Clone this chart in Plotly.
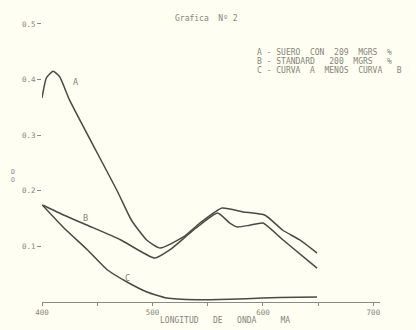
import plotly.graph_objects as go

# Curve A: SUERO CON 209 MGRS %
A_nm = [400, 404, 410, 416, 425, 468, 481, 495, 507, 528, 543, 563, 582, 602, 618, 633, 649]
A_do = [0.367, 0.403, 0.415, 0.405, 0.363, 0.200, 0.147, 0.111, 0.097, 0.117, 0.142, 0.169, 0.162, 0.156, 0.129, 0.112, 0.088]

# Curve B: STANDARD 200 MGRS %
B_nm = [401, 420, 441, 471, 502, 516, 537, 559, 570, 577, 588, 600, 618, 649]
B_do = [0.174, 0.156, 0.138, 0.112, 0.079, 0.094, 0.129, 0.160, 0.142, 0.135, 0.138, 0.142, 0.112, 0.061]

# Curve C: A minus B
C_nm = [400, 419, 441, 459, 477, 495, 513, 540, 570, 600, 615, 649]
C_do = [0.175, 0.135, 0.094, 0.058, 0.036, 0.018, 0.007, 0.004, 0.005, 0.007, 0.008, 0.009]

x_ticks = [400, 500, 600, 700]
y_ticks = [0.1, 0.2, 0.3, 0.4, 0.5]
y_labels = ["0.1", "0.2", "0.3", "0.4", "0.5"]

curve_labels = ["A", "B", "C"]
curve_label_x = [430, 439, 477]
curve_label_y = [0.396, 0.151, 0.043]

legend_lines = ["A - SUERO  CON  209  MGRS  %",
                "B - STANDARD   200  MGRS   %",
                "C - CURVA  A  MENOS  CURVA   B"]

LINE = "#4a4a44"
TEXT = "#85857a"
BG = "#fefef2"
FONT = "DejaVu Sans Mono"

fig = go.Figure()
for nm, do in [(A_nm, A_do), (B_nm, B_do), (C_nm, C_do)]:
    fig.add_trace(go.Scatter(x=nm, y=do, mode="lines",
                             line=dict(color=LINE, width=1.5, shape="spline", smoothing=0.5),
                             showlegend=False, hoverinfo="skip", cliponaxis=False))

for t, x, y in zip(curve_labels, curve_label_x, curve_label_y):
    fig.add_annotation(x=x, y=y, text=t, showarrow=False,
                       font=dict(family=FONT, size=8.5, color=TEXT))

fig.add_annotation(xref="paper", yref="paper", x=0.488, y=0.97, yanchor="middle",
                   text="Grafica  Nº 2", showarrow=False,
                   font=dict(family=FONT, size=8, color=TEXT))

for i, line in enumerate(legend_lines):
    fig.add_annotation(xref="paper", yref="paper", x=0.63, xanchor="left",
                       y=0.856 - i * 0.031, yanchor="middle",
                       text=line, showarrow=False,
                       font=dict(family=FONT, size=8, color=TEXT))

fig.add_annotation(xref="paper", yref="paper", x=-0.085, xanchor="center", y=0.43,
                   text="D<br>O", showarrow=False,
                   font=dict(family=FONT, size=6.5, color=TEXT))

fig.add_annotation(xref="paper", yref="paper", x=0.541, y=-0.062, yanchor="middle",
                   text="LONGITUD   DE   ONDA     MA", showarrow=False,
                   font=dict(family=FONT, size=8, color=TEXT))

fig.update_layout(
    width=416, height=330,
    margin=dict(l=42, r=36, t=10, b=28),
    paper_bgcolor=BG, plot_bgcolor=BG,
    font=dict(family=FONT, size=7.5, color=TEXT),
    xaxis=dict(range=[400, 706], tickvals=x_ticks, showgrid=False, zeroline=False,
               showline=True, linecolor="#8a8a80", linewidth=1.2,
               ticks="outside", ticklen=3, tickcolor="#8a8a80",
               minor=dict(dtick=50, tick0=400, ticks="outside", ticklen=3, tickcolor="#8a8a80"),
               tickfont=dict(family=FONT, size=7.5, color=TEXT)),
    yaxis=dict(range=[0, 0.525], tickvals=y_ticks, ticktext=y_labels,
               showgrid=False, zeroline=False, showline=False,
               ticks="outside", ticklen=4, tickcolor="#8a8a80",
               tickfont=dict(family=FONT, size=7.5, color=TEXT)),
)

fig.write_html("out.html", config={"displayModeBar": False},
               post_script="document.body.style.margin='0';document.body.style.background='#fefef2';")
